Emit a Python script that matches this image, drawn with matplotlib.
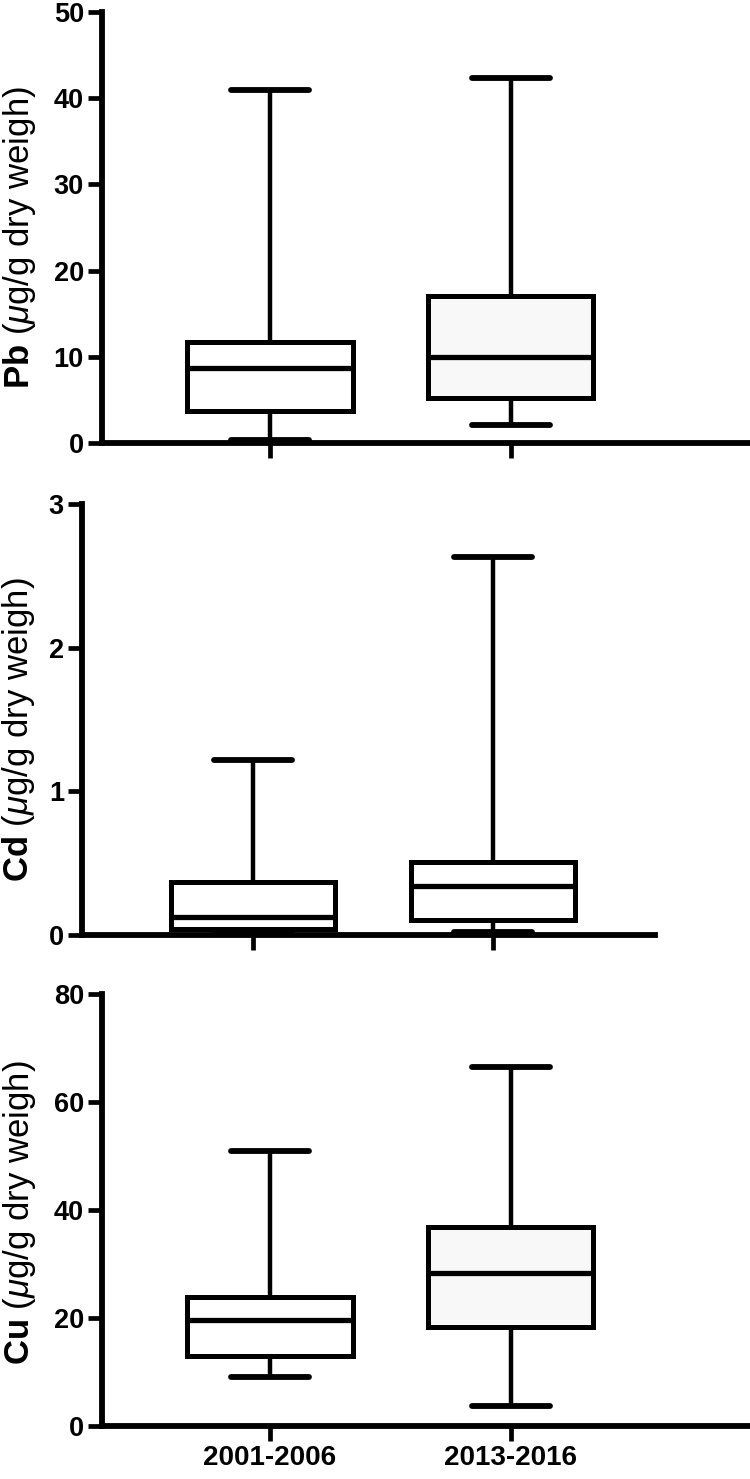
import matplotlib
matplotlib.use("Agg")
import matplotlib.pyplot as plt

# Box plot statistics
periods = ["2001-2006", "2013-2016"]

pb_low = [0.35, 2.1]
pb_q1 = [3.7, 5.2]
pb_med = [8.7, 10.0]
pb_q3 = [11.7, 17.0]
pb_high = [40.9, 42.4]

cd_low = [0.01, 0.02]
cd_q1 = [0.045, 0.105]
cd_med = [0.127, 0.338]
cd_q3 = [0.37, 0.507]
cd_high = [1.22, 2.63]

cu_low = [9.1, 3.7]
cu_q1 = [13.0, 18.3]
cu_med = [19.6, 28.4]
cu_q3 = [23.9, 36.9]
cu_high = [51.0, 66.4]

pb_ticks = [0, 10, 20, 30, 40, 50]
cd_ticks = [0, 1, 2, 3]
cu_ticks = [0, 20, 40, 60, 80]

plt.rcParams['font.family'] = ['Liberation Sans', 'DejaVu Sans']
plt.rcParams['mathtext.fontset'] = 'custom'
plt.rcParams['mathtext.rm'] = 'Liberation Sans'
plt.rcParams['mathtext.it'] = 'Liberation Sans:italic'
plt.rcParams['mathtext.bf'] = 'Liberation Sans:bold'


def make_stats(low, q1, med, q3, high):
    stats = []
    for i in range(len(periods)):
        stats.append({'whislo': low[i], 'q1': q1[i], 'med': med[i],
                      'q3': q3[i], 'whishi': high[i], 'fliers': [],
                      'label': periods[i]})
    return stats


def draw_panel(ax, stats, fills, ticks, ylabel, xlim, label_x, label_y, show_xlabels):
    bp = ax.bxp(stats, positions=[1, 2], widths=0.685, capwidths=0.325,
                patch_artist=True, showfliers=False,
                boxprops=dict(linewidth=3.6, edgecolor='black', joinstyle='miter'),
                medianprops=dict(linewidth=3.8, color='black', solid_capstyle='butt'),
                whiskerprops=dict(linewidth=3.2, color='black', solid_capstyle='butt'),
                capprops=dict(linewidth=4.2, color='black', solid_capstyle='round'))
    for patch, fc in zip(bp['boxes'], fills):
        patch.set_facecolor(fc)

    ax.set_xlim(*xlim)
    ax.set_ylim(ticks[0], ticks[-1])
    ax.set_yticks(ticks)
    ax.set_xticks([1, 2])
    if show_xlabels:
        ax.set_xticklabels(periods, fontsize=20, fontweight='bold')
    else:
        ax.set_xticklabels([])
    ax.tick_params(axis='y', labelsize=19.5, length=10, width=3.4, pad=3)
    ax.tick_params(axis='x', length=11, width=3.4, pad=3)
    for lab in ax.get_yticklabels():
        lab.set_fontweight('bold')

    for side in ['top', 'right']:
        ax.spines[side].set_visible(False)
    for side in ['left', 'bottom']:
        ax.spines[side].set_linewidth(4.2)
        ax.spines[side].set_capstyle('projecting')

    ax.set_ylabel(ylabel, fontsize=25)
    ax.yaxis.label.set_verticalalignment('center')
    ax.yaxis.set_label_coords(label_x, label_y)


fig = plt.figure(figsize=(7.5, 14.79), dpi=100)

ax1 = fig.add_axes([102 / 750, 1 - 443 / 1479, 648 / 750, 431 / 1479])
draw_panel(ax1, make_stats(pb_low, pb_q1, pb_med, pb_q3, pb_high),
           ['white', '#f8f8f8'], pb_ticks,
           r'$\mathbf{Pb}$ ($\mathit{\mu}$g/g dry weigh)',
           (0.303, 2.992), -0.128, 0.477, False)

ax2 = fig.add_axes([82 / 750, 1 - 935 / 1479, 573 / 750, 431 / 1479])
draw_panel(ax2, make_stats(cd_low, cd_q1, cd_med, cd_q3, cd_high),
           ['white', 'white'], cd_ticks,
           r'$\mathbf{Cd}$ ($\mathit{\mu}$g/g dry weigh)',
           (0.2875, 2.675), -0.11, 0.476, False)

ax3 = fig.add_axes([102 / 750, 1 - 1426 / 1479, 648 / 750, 432 / 1479])
draw_panel(ax3, make_stats(cu_low, cu_q1, cu_med, cu_q3, cu_high),
           ['white', '#f8f8f8'], cu_ticks,
           r'$\mathbf{Cu}$ ($\mathit{\mu}$g/g dry weigh)',
           (0.303, 2.992), -0.128, 0.495, True)

fig.savefig("out.png", dpi=100)
